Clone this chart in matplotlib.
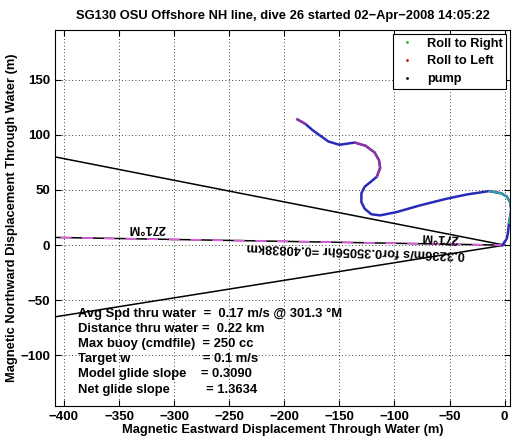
import matplotlib
matplotlib.use('Agg')
from matplotlib import pyplot as plt
import numpy as np

plt.rcParams['font.family'] = ['Liberation Sans', 'DejaVu Sans']

# glider track (m), from the surface point outward
track_x = [-2, 2, 3, 4, 6, 5, 2, -3, -14, -34, -53, -77, -98, -113, -121, -127, -130, -130, -127,
           -122, -116, -113, -114, -118, -126, -136, -150, -160, -167, -174, -181, -188]
track_y = [0, 6, 11, 20, 32, 39, 44, 47, 49, 46, 42, 36, 30, 27, 28, 33, 39, 47, 53,
           57, 62, 70, 77, 84, 90, 93, 91, 94, 99, 104, 110, 114]
# colour of each segment: b = pitch/normal, m = roll left, c = roll right
seg_col = ['b', 'b', 'b', 'c', 'c', 'c', 'c', 'c', 'b', 'b', 'b', 'b', 'b', 'b', 'b', 'b', 'b', 'b', 'b',
           'b', 'm', 'm', 'm', 'm', 'm', 'b', 'b', 'b', 'b', 'b', 'm']

# heading lines
head_x = [0, -408]
head_up_y = [0, 80]
head_dn_y = [0, -65]
dac_y = [0, 7]

info = ['Avg Spd thru water  =  0.17 m/s @ 301.3 \u00b0M',
        'Distance thru water =  0.22 km',
        'Max buoy (cmdfile)  = 250 cc',
        'Target w                    = 0.1 m/s',
        'Model glide slope    = 0.3090',
        'Net glide slope          = 1.3634']

fig = plt.figure(figsize=(5.2, 4.42), dpi=100)
ax = fig.add_axes([0.106, 0.081, 0.875, 0.851])

ax.plot(head_x, head_up_y, color='black', lw=1.1)
ax.plot(head_x, head_dn_y, color='black', lw=1.1)
ax.plot(head_x, dac_y, color='black', lw=1.1)
ax.plot(head_x, dac_y, color='#e060e0', lw=1.3, ls=(0, (6, 6)))

cmap = {'b': '#2a2ab8', 'm': '#a0309a', 'c': '#30a0a0'}
ax.plot(track_x, track_y, color='#2a2ab8', lw=1.8)
for i, c in enumerate(seg_col):
    if c != 'b':
        ax.plot(track_x[i:i + 2], track_y[i:i + 2], color=cmap[c], lw=1.4)

# legend entries
ax.plot([], [], '.', color='#20c020', ms=2, label='Roll to Right')
ax.plot([], [], '.', color='#c02020', ms=2, label='Roll to Left')
ax.plot([], [], '.', color='black', ms=2, label='pump')
leg = ax.legend(loc='upper right', prop={'weight': 'bold', 'size': 9.2}, fancybox=False,
                edgecolor='black', framealpha=1, handlelength=1.5, borderaxespad=0.3,
                labelspacing=0.45, borderpad=0.3)
leg.get_frame().set_linewidth(0.8)

ax.text(-325, 15.5, '271\u00b0M', rotation=180, ha='center', va='center', fontsize=9.3, fontweight='bold')
ax.text(-59, 7, '271\u00b0M', rotation=177, ha='center', va='center', fontsize=9.3, fontweight='bold')
ax.text(-135, -4.5, '0.3236m/s for0.35056hr =0.40838km', rotation=178, ha='center', va='center',
        fontsize=9.3, fontweight='bold')

for k, s in enumerate(info):
    ax.text(-387, -62 - k * 13.8, s, ha='left', va='center', fontsize=9.4, fontweight='bold')

ax.set_xlim(-408, 5)
ax.set_ylim(-146, 195)
ax.set_xticks(np.arange(-400, 1, 50))
ax.set_yticks(np.arange(-100, 151, 50))
ax.grid(True, color='black', ls=(0, (1, 3)), lw=0.6)
ax.tick_params(direction='in', top=True, right=True, length=4, labelsize=9.5)
for lab in ax.get_xticklabels() + ax.get_yticklabels():
    lab.set_fontweight('bold')

ax.set_xlabel('Magnetic Eastward Displacement Through Water (m)', fontsize=9.3, fontweight='bold', labelpad=1)
ax.set_ylabel('Magnetic Northward Displacement Through Water (m)', fontsize=9.3, fontweight='bold', labelpad=2)
ax.set_title('SG130 OSU Offshore NH line, dive 26 started 02\u2212Apr\u22122008 14:05:22', fontsize=9.3,
             fontweight='bold', pad=8)

plt.savefig('out.png', dpi=100)
